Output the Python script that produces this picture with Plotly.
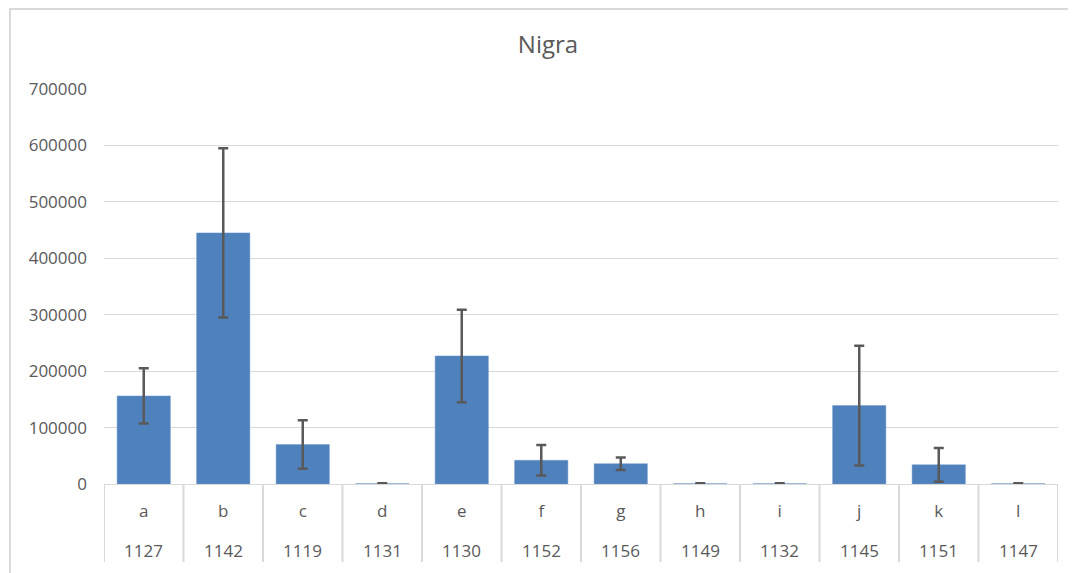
import plotly.graph_objects as go

# sample labels (top row) and sample numbers (bottom row)
letters = ["a", "b", "c", "d", "e", "f", "g", "h", "i", "j", "k", "l"]
codes = ["1127", "1142", "1119", "1131", "1130", "1152", "1156", "1149", "1132", "1145", "1151", "1147"]

# mean values and error (+/-)
means = [156000, 445000, 70000, 600, 227000, 42000, 36000, 600, 600, 139000, 34000, 600]
errors = [49000, 150000, 43000, 600, 82000, 27000, 11000, 600, 600, 106000, 30000, 600]

y_ticks = [0, 100000, 200000, 300000, 400000, 500000, 600000, 700000]

GRAY_TXT = "#595959"
GRID = "#D9D9D9"

# page body adds an 8px offset, so layout positions are given in screen pixels minus 8
OFF = 8
W, H = 1076, 573
L, T = 104 - OFF, 89 - OFF
R, B = W - (1058 - OFF), H - (484 - OFF)
pw, ph = W - L - R, H - T - B


def py(pix):
    # screen pixel row -> paper y
    return (H - B - (pix - OFF)) / ph


def px(pix):
    # screen pixel column -> paper x
    return (pix - OFF - L) / pw


fig = go.Figure(go.Bar(
    x=letters,
    y=means,
    marker=dict(color="#4F81BD", line=dict(color="#6E98CC", width=0.5)),
    error_y=dict(type="data", array=errors, visible=True,
                 color=GRAY_TXT, thickness=2.5, width=5),
))

shapes = [dict(type="rect", xref="paper", yref="paper",
               x0=px(10), x1=px(W + 40), y0=py(H + 40), y1=py(9),
               line=dict(color=GRID, width=2), layer="below")]
# category dividers below the axis
for i in range(len(letters) + 1):
    shapes.append(dict(type="line", xref="x", yref="paper",
                       x0=i - 0.5, x1=i - 0.5, y0=0, y1=py(562),
                       line=dict(color=GRID, width=2)))

annotations = [dict(x=letters[i], y=py(550), xref="x", yref="paper",
                    text=codes[i], showarrow=False, yanchor="middle",
                    font=dict(size=17, color=GRAY_TXT))
               for i in range(len(codes))]

fig.update_layout(
    width=W, height=H,
    margin=dict(l=L, r=R, t=T, b=B),
    paper_bgcolor="white", plot_bgcolor="white",
    font=dict(family="Open Sans", color=GRAY_TXT, size=17),
    title=dict(text="Nigra", x=(548 - OFF) / W, xref="container", xanchor="center",
               y=1 - (45 - OFF) / H, yref="container", yanchor="middle",
               font=dict(family="Open Sans", size=24, color=GRAY_TXT)),
    bargap=0.33,
    showlegend=False,
    shapes=shapes,
    annotations=annotations,
)

fig.update_yaxes(
    range=[0, 700000], tickvals=y_ticks, ticktext=[str(v) for v in y_ticks],
    showgrid=True, gridcolor=GRID, gridwidth=1,
    zeroline=False, showline=False, ticks="", ticklabelstandoff=16,
    automargin=False,
)

fig.update_xaxes(
    type="category", range=[-0.5, len(letters) - 0.5],
    showline=True, linecolor=GRID, linewidth=1,
    ticks="", ticklabelstandoff=12, automargin=False,
    tickfont=dict(size=17, color=GRAY_TXT),
)

fig.write_html("out.html")
